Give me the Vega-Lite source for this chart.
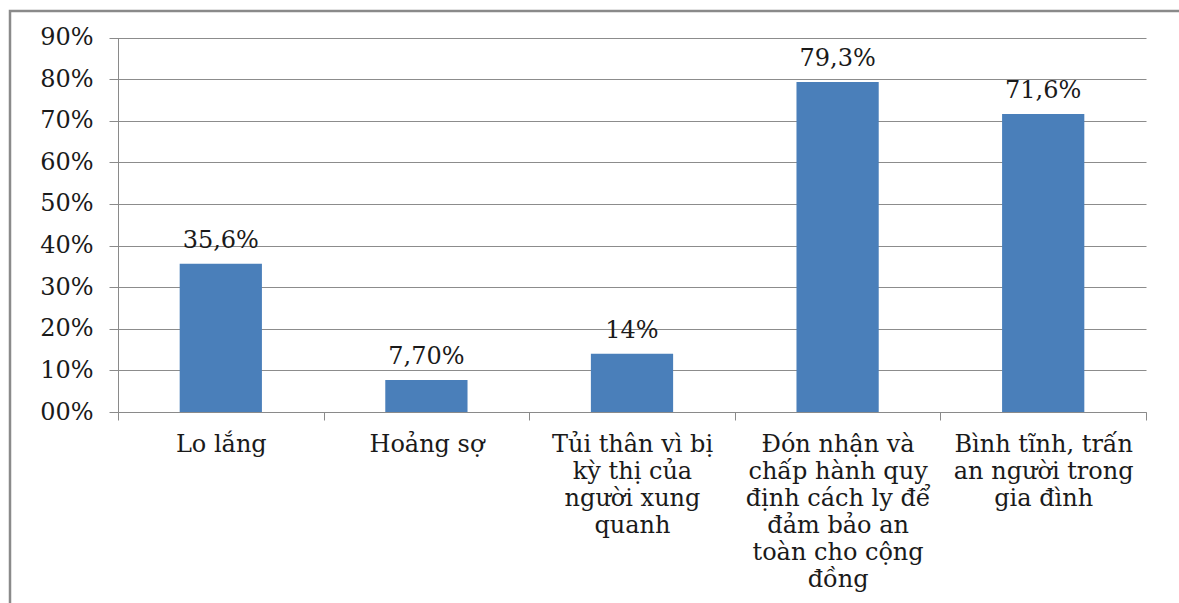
{
  "$schema": "https://vega.github.io/schema/vega-lite/v6.json",
  "autosize": {"type": "none"},
  "padding": {"left": 10, "top": 11, "right": 0, "bottom": 0},
  "width": 1175,
  "height": 600,
  "background": "white",
  "config": {
    "view": {"stroke": "#8a8a8a", "strokeWidth": 2.5},
    "font": "DejaVu Serif"
  },
  "data": {
    "values": [
      {"group": "Lo lắng", "share": 0.356, "label": "35,6%"},
      {"group": "Hoảng sợ", "share": 0.077, "label": "7,70%"},
      {"group": "Tủi thân vì bị\nkỳ thị của\nngười xung\nquanh", "share": 0.14, "label": "14%"},
      {"group": "Đón nhận và\nchấp hành quy\nđịnh cách ly để\nđảm bảo an\ntoàn cho cộng\nđồng", "share": 0.793, "label": "79,3%"},
      {"group": "Bình tĩnh, trấn\nan người trong\ngia đình", "share": 0.716, "label": "71,6%"}
    ]
  },
  "encoding": {
    "x": {
      "field": "group",
      "type": "nominal",
      "sort": null,
      "scale": {"range": [108, 1136], "paddingInner": 0, "paddingOuter": 0},
      "axis": {
        "title": null,
        "orient": "bottom",
        "offset": -199,
        "labelAngle": 0,
        "labelFont": "DejaVu Serif",
        "labelFontSize": 24,
        "labelColor": "#1a1a1a",
        "labelLineHeight": 27,
        "labelPadding": 12,
        "labelBaseline": "top",
        "labelLimit": 0,
        "labelOverlap": false,
        "labelBound": false,
        "labelExpr": "split(datum.label, '\\n')",
        "tickBand": "extent",
        "tickSize": 8,
        "tickColor": "#8a8a8a",
        "domainColor": "#8a8a8a",
        "grid": false
      }
    },
    "y": {
      "field": "share",
      "type": "quantitative",
      "scale": {"domain": [0, 0.9], "range": [401, 26.5], "nice": false, "zero": true},
      "axis": {
        "title": null,
        "offset": -108,
        "values": [0, 0.1, 0.2, 0.3, 0.4, 0.5, 0.6, 0.7, 0.8, 0.9],
        "labelExpr": "datum.value < 0.05 ? '00%' : format(datum.value, '.0%')",
        "labelFont": "DejaVu Serif",
        "labelFontSize": 24,
        "labelColor": "#1a1a1a",
        "labelPadding": 16,
        "tickSize": 9,
        "tickColor": "#8a8a8a",
        "domainColor": "#8a8a8a",
        "gridColor": "#8c8c8c",
        "gridWidth": 1.2
      }
    }
  },
  "layer": [
    {"mark": {"type": "bar", "color": "#4a7fba", "width": {"band": 0.4}}},
    {
      "mark": {"type": "text", "baseline": "alphabetic", "dy": -16, "fontSize": 24, "color": "#1a1a1a", "font": "DejaVu Serif"},
      "encoding": {"text": {"field": "label"}}
    }
  ]
}
